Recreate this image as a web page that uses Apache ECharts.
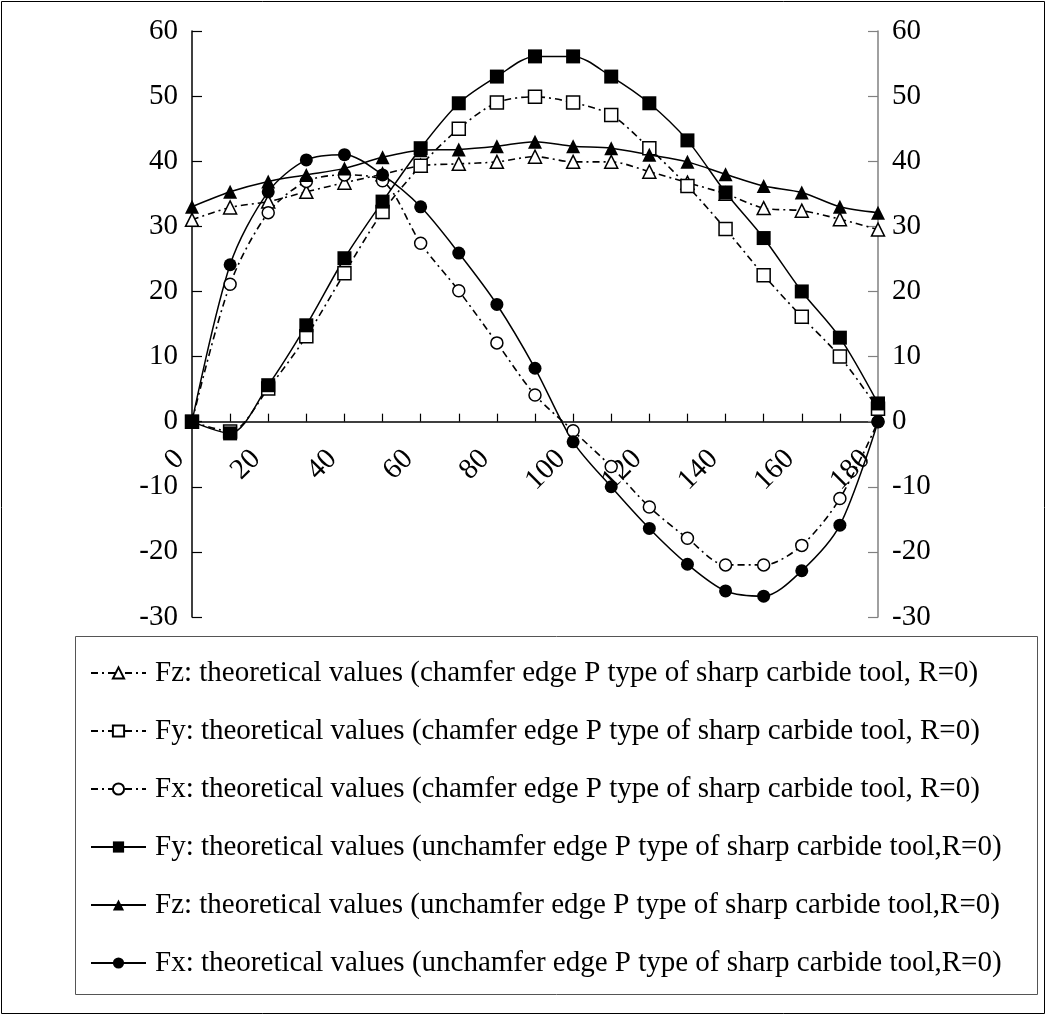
<!DOCTYPE html>
<html>
<head>
<meta charset="utf-8">
<script src="https://cdn.jsdelivr.net/npm/echarts@6/dist/echarts.min.js"></script>
<style>
  html, body { margin: 0; padding: 0; background: #fff; }
  #chart { width: 1047px; height: 1016px; }
</style>
</head>
<body>
<div id="chart"></div>
<script>
// Angle positions (degrees)
var angles = ['0','10','20','30','40','50','60','70','80','90','100','110','120','130','140','150','160','170','180'];

// Cutting force components, theoretical values
var fzChamfer   = [31.0, 32.9, 33.8, 35.3, 36.7, 38.0, 39.3, 39.6, 39.9, 40.7, 39.9, 39.9, 38.4, 36.7, 35.0, 32.8, 32.4, 31.1, 29.5];
var fyChamfer   = [0, -1.5, 5.1, 13.1, 22.8, 32.2, 39.3, 45.0, 49.0, 49.9, 49.0, 47.1, 42.0, 36.2, 29.6, 22.5, 16.1, 10.0, 2.0];
var fxChamfer   = [0, 21.1, 32.1, 36.9, 37.9, 37.0, 27.4, 20.1, 12.1, 4.1, -1.4, -6.9, -13.1, -17.9, -22.0, -22.0, -19.0, -11.8, 0];
var fyUnchamfer = [0, -1.8, 5.6, 14.8, 25.1, 33.8, 42.0, 48.9, 53.0, 56.1, 56.1, 53.0, 48.9, 43.2, 35.2, 28.2, 20.0, 12.9, 2.8];
var fzUnchamfer = [33.0, 35.3, 36.9, 37.9, 38.9, 40.6, 41.7, 41.8, 42.3, 43.0, 42.3, 42.0, 41.0, 39.9, 38.0, 36.2, 35.2, 33.0, 32.1];
var fxUnchamfer = [0, 24.1, 35.3, 40.2, 41.0, 37.9, 33.0, 25.9, 18.0, 8.2, -3.1, -10.0, -16.4, -21.9, -26.0, -26.8, -22.9, -15.9, 0];

// Value axis range
var yMin = -30, yMax = 60, yStep = 10;

var seriesNames = [
  'Fz: theoretical values (chamfer edge P type of sharp carbide tool, R=0)',
  'Fy: theoretical values (chamfer edge P type of sharp carbide tool, R=0)',
  'Fx: theoretical values (chamfer edge P type of sharp carbide tool, R=0)',
  'Fy: theoretical values (unchamfer edge P type of sharp carbide tool,R=0)',
  'Fz: theoretical values (unchamfer edge P type of sharp carbide tool,R=0)',
  'Fx: theoretical values (unchamfer edge P type of sharp carbide tool,R=0)'
];

var FONT = '"Liberation Serif", "Times New Roman", serif';
var FS = 29;

var GRID_TOP = 31, GRID_H = 586;
// the category axis crosses the value axis at zero
var zeroOffset = -GRID_H * (0 - yMin) / (yMax - yMin);

function openSeries(name, data, symbol, size) {
  return {
    name: name, type: 'line', data: data, smooth: 0.3,
    symbol: symbol, symbolSize: size,
    itemStyle: { color: '#fff', borderColor: '#000', borderWidth: 1.5 },
    lineStyle: { color: '#000', width: 1.6, type: [7, 4, 2, 4] },
    emphasis: { disabled: true }
  };
}
function solidSeries(name, data, symbol, size) {
  return {
    name: name, type: 'line', data: data, smooth: 0.3,
    symbol: symbol, symbolSize: size,
    itemStyle: { color: '#000' },
    lineStyle: { color: '#000', width: 1.5, type: 'solid' },
    emphasis: { disabled: true }
  };
}

var yAxisBase = {
  type: 'value', min: yMin, max: yMax, interval: yStep,
  splitLine: { show: false },
  axisLabel: { fontFamily: FONT, fontSize: FS, color: '#000', margin: 14 }
};

var chart = echarts.init(document.getElementById('chart'), null, { renderer: 'canvas' });
chart.setOption({
  animation: false,
  backgroundColor: '#fff',
  grid: { left: 192, top: GRID_TOP, width: 686, height: GRID_H, containLabel: false },
  xAxis: {
    type: 'category', data: angles, boundaryGap: false,
    position: 'bottom', offset: zeroOffset,
    axisLine: { onZero: false, lineStyle: { color: '#000', width: 1.5 } },
    axisTick: { show: true, inside: true, length: 8, interval: 0, lineStyle: { color: '#000', width: 1.2 } },
    axisLabel: {
      interval: 1, rotate: 45, margin: 21, padding: [0, 17, 0, 0],
      fontFamily: FONT, fontSize: FS, color: '#000'
    },
    splitLine: { show: false }
  },
  yAxis: [
    Object.assign({}, yAxisBase, {
      position: 'left',
      axisLine: { show: true, onZero: false, lineStyle: { color: '#000', width: 1.5 } },
      axisTick: { show: true, inside: true, length: 10, lineStyle: { color: '#000', width: 1.2 } }
    }),
    Object.assign({}, yAxisBase, {
      position: 'right',
      axisLine: { show: true, onZero: false, lineStyle: { color: '#808080', width: 1.5 } },
      axisTick: { show: true, inside: true, length: 10, lineStyle: { color: '#808080', width: 1.2 } }
    })
  ],
  legend: {
    orient: 'vertical', left: 90, top: 637,
    padding: [21, 0, 17, 0],
    itemWidth: 55, itemHeight: 14, itemGap: 28,
    selectedMode: false,
    textStyle: { fontFamily: FONT, fontSize: FS, color: '#000', lineHeight: 30, padding: [0, 0, 0, 4] },
    data: seriesNames
  },
  graphic: [
    { type: 'rect', shape: { x: 1.5, y: 1.5, width: 1043, height: 1012 },
      style: { fill: null, stroke: '#000', lineWidth: 1 }, silent: true, z: -1 },
    { type: 'rect', shape: { x: 75.5, y: 636.5, width: 962, height: 358 },
      style: { fill: null, stroke: '#555', lineWidth: 1 }, silent: true, z: -1 }
  ],
  series: [
    openSeries(seriesNames[0], fzChamfer, 'triangle', 13),
    openSeries(seriesNames[1], fyChamfer, 'rect', 13),
    openSeries(seriesNames[2], fxChamfer, 'circle', 12),
    solidSeries(seriesNames[3], fyUnchamfer, 'rect', 14),
    solidSeries(seriesNames[4], fzUnchamfer, 'triangle', 14),
    solidSeries(seriesNames[5], fxUnchamfer, 'circle', 13)
  ]
});
</script>
</body>
</html>
